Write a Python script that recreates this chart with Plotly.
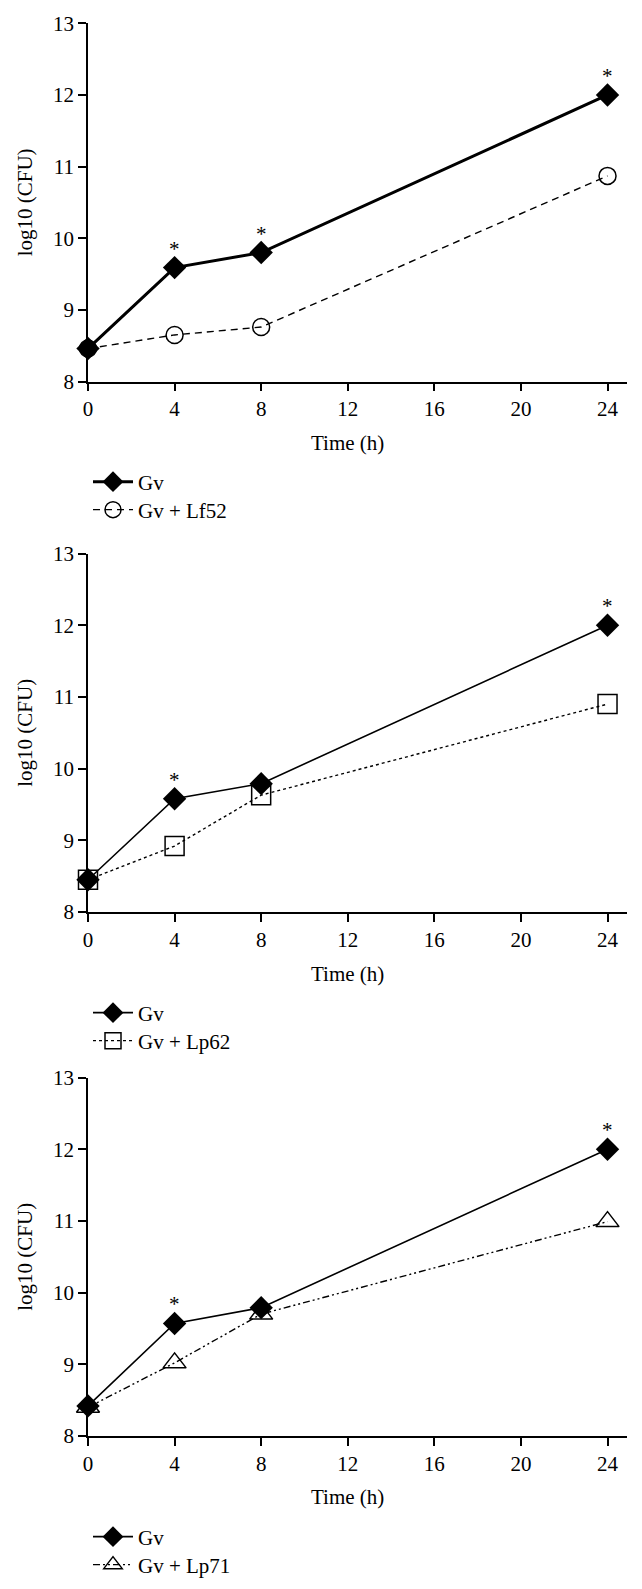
import plotly.graph_objects as go

# ---- data ----
time_h = [0, 4, 8, 24]
gv_p1 = [8.46, 9.59, 9.80, 12.00]
lf52 = [8.46, 8.65, 8.76, 10.87]
gv_p2 = [8.45, 9.58, 9.79, 12.00]
lp62 = [8.45, 8.92, 9.63, 10.90]
gv_p3 = [8.42, 9.57, 9.79, 12.00]
lp71 = [8.40, 9.02, 9.70, 10.99]
sig_p1 = [4, 8, 24]
sig_p2 = [4, 24]
sig_p3 = [4, 24]
x_ticks = [0, 4, 8, 12, 16, 20, 24]
y_ticks = [8, 9, 10, 11, 12, 13]

# page is offset by the 8px body margin; figure sized to fit the window
OFF = 8
W, H = 642 - OFF, 1589 - OFF
FONT = "Liberation Serif"
FS = 21

def py(page_y):
    return 1 - (page_y - OFF) / H

def px(page_x):
    return (page_x - OFF) / W

panels = [
    dict(gv=gv_p1, other=lf52, name="Gv + Lf52", sym="circle-open", msize=17,
         dash="7px,5px", gvw=3, sig=sig_p1, top=23.3, bot=381.5, legy=(482, 510), xt=443),
    dict(gv=gv_p2, other=lp62, name="Gv + Lp62", sym="square-open", msize=19,
         dash="dot", gvw=1.6, sig=sig_p2, top=553.5, bot=912.0, legy=(1013, 1041), xt=974),
    dict(gv=gv_p3, other=lp71, name="Gv + Lp71", sym="triangle-up-open", msize=20,
         dash="7px,3px,2px,3px,2px,3px", gvw=1.6, sig=sig_p3, top=1077.5, bot=1436.0, legy=(1537, 1565), xt=1497),
]

fig = go.Figure()
x_dom = [px(88), px(627)]
annotations = []
layout_extra = {}
leg_n = 0
for i, p in enumerate(panels):
    k = "" if i == 0 else str(i + 1)
    xa, ya = "x" + k, "y" + k
    legs = []
    for j in range(2):
        leg_n += 1
        legs.append("legend" if leg_n == 1 else "legend" + str(leg_n))
    fig.add_trace(go.Scatter(
        x=time_h, y=p["gv"], name="Gv", mode="lines+markers",
        xaxis=xa, yaxis=ya, legend=legs[0], cliponaxis=False,
        line=dict(color="black", width=p["gvw"]),
        marker=dict(symbol="diamond", size=18, color="black", line=dict(width=0)),
    ))
    fig.add_trace(go.Scatter(
        x=time_h, y=p["other"], name=p["name"], mode="lines+markers",
        xaxis=xa, yaxis=ya, legend=legs[1], cliponaxis=False,
        line=dict(color="black", width=1.4, dash=p["dash"]),
        marker=dict(symbol=p["sym"], size=p["msize"], color="black", line=dict(width=1.5, color="black")),
    ))
    layout_extra["xaxis" + k] = dict(
        domain=x_dom, range=[0, 24.9], anchor=ya, tickvals=x_ticks,
        showline=True, linecolor="black", linewidth=1.5, ticks="outside",
        ticklen=8, tickwidth=1.5, tickcolor="black", showgrid=False, zeroline=False,
        automargin=False, tickfont=dict(family=FONT, size=FS, color="black"))
    layout_extra["yaxis" + k] = dict(
        domain=[py(p["bot"]), py(p["top"])], range=[8, 13], anchor=xa, tickvals=y_ticks,
        showline=True, linecolor="black", linewidth=1.5, ticks="outside",
        ticklen=8, tickwidth=1.5, tickcolor="black", showgrid=False, zeroline=False,
        automargin=False, tickfont=dict(family=FONT, size=FS, color="black"),
        title=dict(text="log10 (CFU)", font=dict(family=FONT, size=FS, color="black"), standoff=15))
    for lg, yy in zip(legs, p["legy"]):
        layout_extra[lg] = dict(x=px(88), y=py(yy), xanchor="left", yanchor="middle",
                                font=dict(family=FONT, size=FS, color="black"),
                                bgcolor="rgba(0,0,0,0)", itemwidth=40, borderwidth=0)
    for xs in p["sig"]:
        annotations.append(dict(x=xs, y=p["gv"][time_h.index(xs)], xref=xa, yref=ya, text="*",
                                showarrow=False, yshift=19,
                                font=dict(family=FONT, size=FS, color="black")))
    annotations.append(dict(x=12, y=py(p["xt"]), xref=xa, yref="paper", text="Time (h)",
                            showarrow=False, xanchor="center", yanchor="middle",
                            font=dict(family=FONT, size=FS, color="black")))

fig.update_layout(
    template="none",
    width=W, height=H, margin=dict(l=0, r=0, t=0, b=0, pad=0, autoexpand=False),
    paper_bgcolor="white", plot_bgcolor="white",
    font=dict(family=FONT, size=FS, color="black"),
    annotations=annotations, showlegend=True,
    **layout_extra,
)
fig.write_html("out.html")
